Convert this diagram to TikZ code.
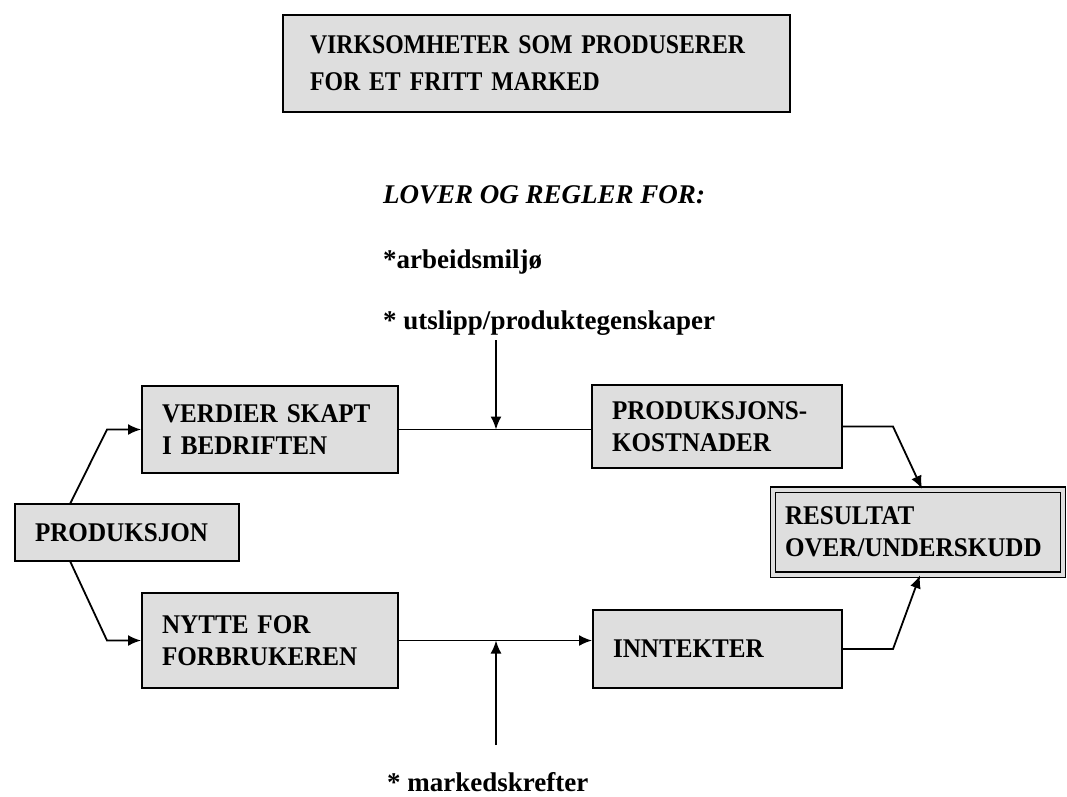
\documentclass[tikz,border=0pt]{standalone}
\usepackage{fontspec}
\setmainfont{Liberation Serif}
\usetikzlibrary{arrows.meta,positioning,calc}
\tikzset{mkt edge/.style={-{Latex[length=13pt,width=11pt]}, line width=1.8pt}}
\tikzset{mkt line/.style={line width=1.8pt}}
\tikzset{mkt box/.style={draw=black, line width=2pt, fill=black!13, align=left, inner xsep=20pt, inner ysep=0pt, font=\bfseries\fontsize{27}{32}\selectfont\addfontfeatures{FakeStretch=0.93}}}
\tikzset{mkt frame/.style={mkt box, double=black!13, double distance=4pt, line width=1.4pt, inner xsep=12pt}}
\tikzset{mkt label/.style={anchor=west, inner sep=0pt, font=\bfseries\fontsize{27}{30}\selectfont}}

\begin{document}
\begin{tikzpicture}[x=1pt,y=-1pt]
		\useasboundingbox (0,0) rectangle (1067,796);

		\node[mkt box, inner xsep=27pt, text width=453pt, minimum height=97pt,
			font=\bfseries\fontsize{27}{37}\selectfont\addfontfeatures{FakeStretch=0.88}] (title) at (536.5,63.5)
			{\mbox{VIRKSOMHETER SOM PRODUSERER}\\\mbox{FOR ET FRITT MARKED}};

		\node[mkt label, font=\bfseries\itshape\fontsize{27}{30}\selectfont] (lover) at (383,195) {LOVER OG REGLER FOR:};
		\node[mkt label] (miljo) at (383,262) {*arbeidsmiljø};
		\node[mkt label] (utslipp) at (383,323) {* utslipp/produktegenskaper};
		\node[mkt label] (marked) at (387,782) {* markedskrefter};

		\node[mkt box, text width=184pt, minimum height=57pt] (prod) at (127,532.5) {\mbox{PRODUKSJON}};
		\node[mkt box, text width=216pt, minimum height=87pt] (verdier) at (270,429.5) {\mbox{VERDIER SKAPT}\\\mbox{I BEDRIFTEN}};
		\node[mkt box, text width=216pt, minimum height=95pt] (nytte) at (270,640.5) {\mbox{NYTTE FOR}\\\mbox{FORBRUKEREN}};
		\node[mkt box, text width=210pt, minimum height=83pt] (kost) at (717,426.5) {\mbox{PRODUKSJONS-}\\\mbox{KOSTNADER}};
		\node[mkt box, text width=209pt, minimum height=78pt] (inntekt) at (717.5,649) {\mbox{INNTEKTER}};
		\node[mkt frame, text width=266pt, minimum height=85pt] (resultat) at (918,532) {\mbox{RESULTAT}\\\mbox{OVER/UNDERSKUDD}};

		\coordinate (p0) at (70,504);
		\coordinate (p1) at (107,429.5);
		\coordinate (q0) at (70,561);
		\coordinate (q1) at (107,640.5);
		\coordinate (k1) at (893,426.5);
		\coordinate (i1) at (893,649);
		\coordinate (topjoin) at (496,429.5);
		\coordinate (lowjoin) at (496,640.5);
		\coordinate (topfoot) at (496,340);
		\coordinate (lowfoot) at (496,745);

		\draw[mkt edge] (p0) -- (p1) -- (verdier.west);
		\draw[mkt edge] (q0) -- (q1) -- (nytte.west);
		\draw[mkt line] (verdier.east) -- (verdier.east -| kost.west);
		\draw[mkt edge] (nytte.east) -- (nytte.east -| inntekt.west);
		\draw[mkt edge] (topfoot) -- (topjoin);
		\draw[mkt edge] (lowfoot) -- (lowjoin);
		\draw[mkt edge] (kost.east) -- (k1) -- ([xshift=4pt]resultat.north);
		\draw[mkt edge] (inntekt.east) -- (i1) -- ([xshift=2pt]resultat.south);
	\end{tikzpicture}
\end{document}
